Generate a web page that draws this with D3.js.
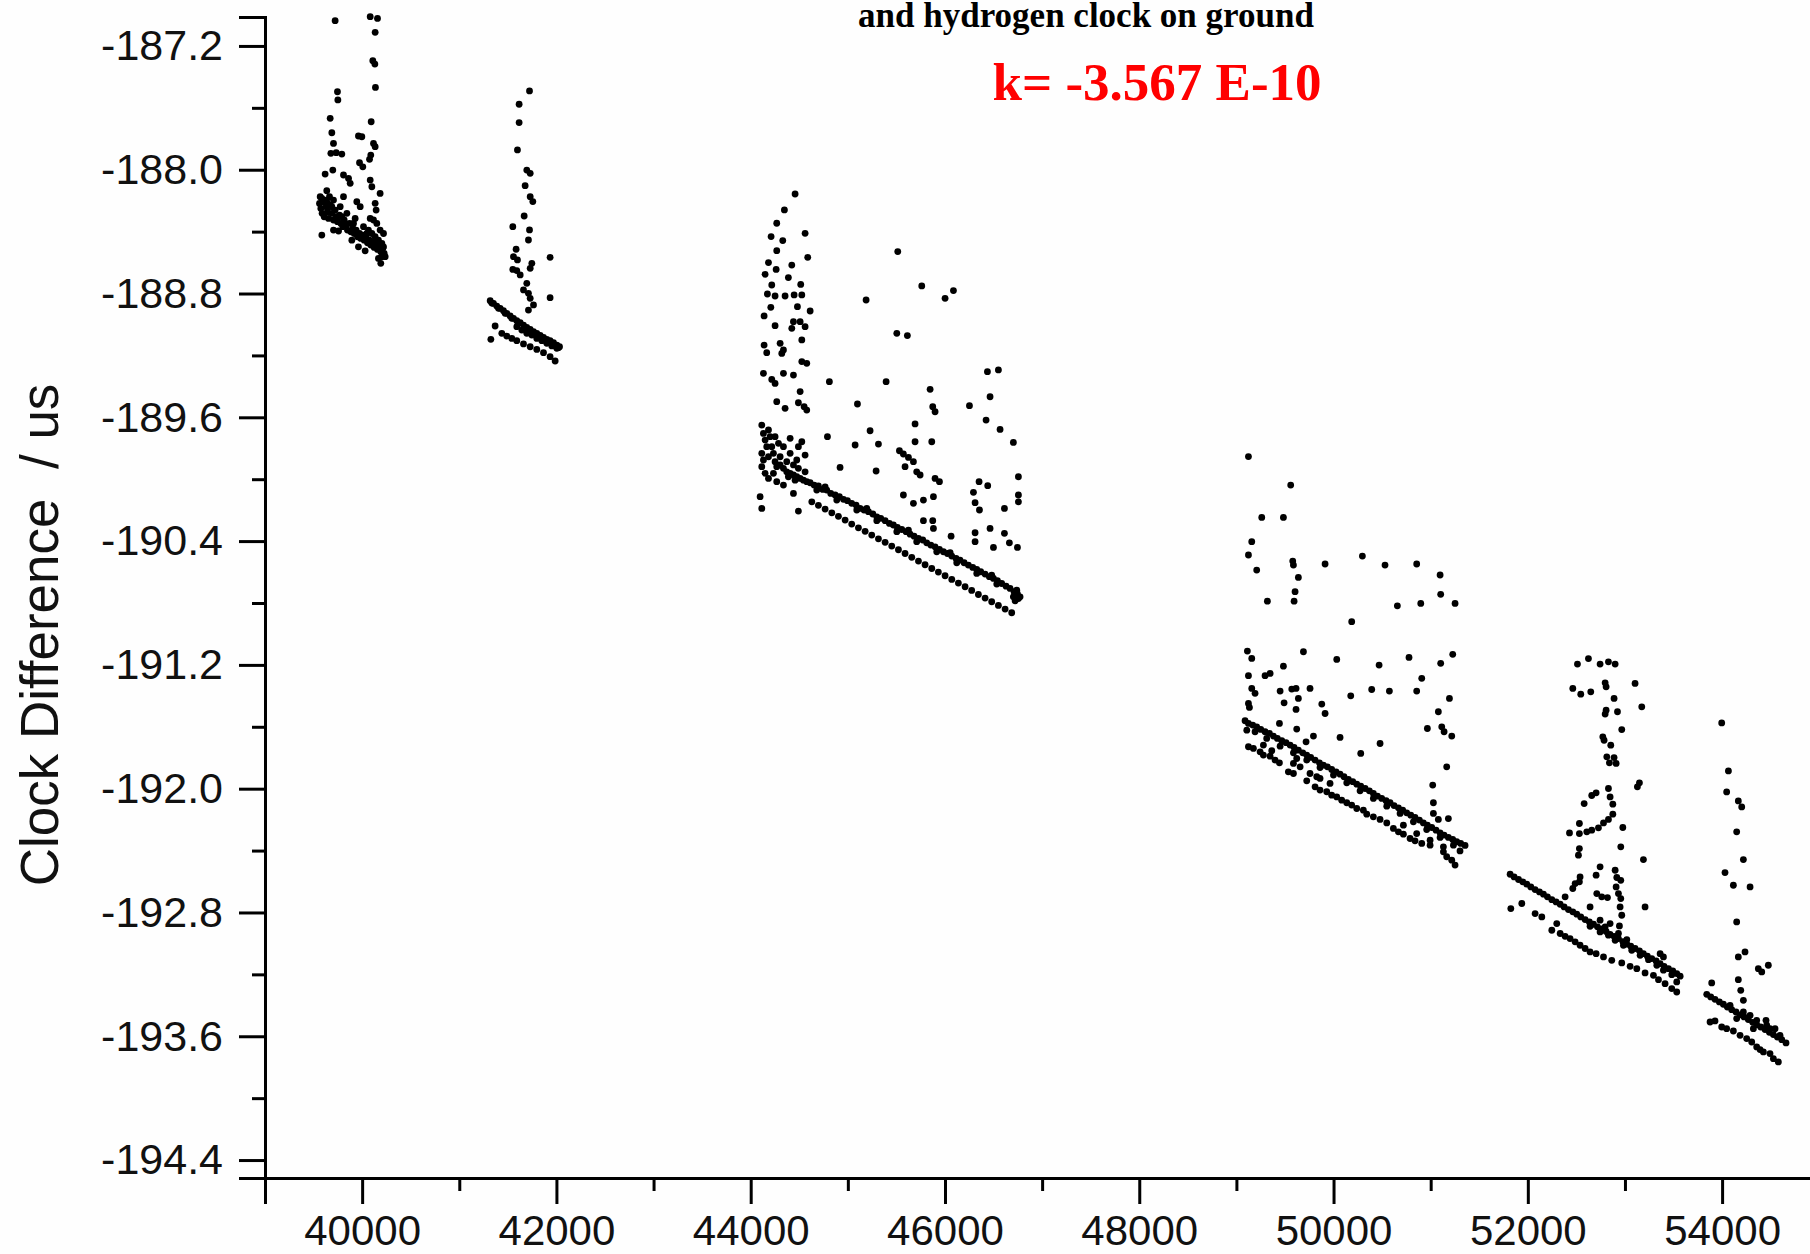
<!DOCTYPE html>
<html><head><meta charset="utf-8">
<script src="https://cdn.jsdelivr.net/npm/d3@7"></script>
<style>
html,body{margin:0;padding:0;background:#fff;}
svg{display:block;}
</style></head>
<body>
<svg id="chart" width="1810" height="1254"></svg>
<script>
// ---------- data (x: time, y: clock difference in us) ----------
const seg1 = [
[39722,-187.037],[40083,-187.011],[40158,-187.022],[40134,-187.112],[40110,-187.295],[40131,-187.317],[40137,-187.468],[39746,-187.496],[39750,-187.549],[39671,-187.668],[40093,-187.690],[39688,-187.761],[39962,-187.782],[39997,-187.787],[39705,-187.830],[40117,-187.830],[40134,-187.851],[39678,-187.894],[39733,-187.890],[39791,-187.899],[40089,-187.905],[40076,-187.933],[39973,-187.955],[40007,-187.981],[39698,-188.002],[39619,-188.028],[39808,-188.034],[39860,-188.056],[39877,-188.088],[40083,-188.067],[40100,-188.110],[40185,-188.153],[39636,-188.136],[39664,-188.174],[39808,-188.174],[39945,-188.207],[39980,-188.239],[40134,-188.217],[40144,-188.261],
[39561,-188.218],[39575,-188.250],[39588,-188.282],[39602,-188.207],[39609,-188.304],[39630,-188.239],[39643,-188.271],[39654,-188.315],[39671,-188.228],[39688,-188.282],[39705,-188.325],[39722,-188.261],[39733,-188.304],[39746,-188.336],[39767,-188.293],[39781,-188.347],[39801,-188.368],[39815,-188.325],[39835,-188.358],[39849,-188.390],[39870,-188.347],[39884,-188.401],[39904,-188.379],[39918,-188.412],[39938,-188.390],[39952,-188.433],[39973,-188.412],[39986,-188.444],[40007,-188.422],[40021,-188.455],[40041,-188.437],[40055,-188.472],[40076,-188.455],[40089,-188.487],[40110,-188.465],[40124,-188.502],[40144,-188.480],[40158,-188.515],[40179,-188.498],[40192,-188.530],[40213,-188.508],[40227,-188.541],[40065,-188.390],[40100,-188.412],[40134,-188.433],[40168,-188.455],[40203,-188.476],[40220,-188.412],[40151,-188.347],[40185,-188.390],[39585,-188.422],[39705,-188.390],[39757,-188.396],[39894,-188.455],[39962,-188.498],[40031,-188.524],[40168,-188.573],[40192,-188.605],[40083,-188.315],[40117,-188.325],[39568,-188.174],[39619,-188.196],[39688,-188.239],[39791,-188.304],[39911,-188.347],
[39585,-188.185],[39636,-188.207],[39705,-188.196],[39774,-188.239],[39843,-188.282],[39928,-188.315],[40014,-188.368],[40048,-188.412],[40151,-188.455],[40220,-188.498],[40237,-188.562],[40203,-188.562]
];
const seg2 = [
[41723,-187.491],[41616,-187.577],[41616,-187.695],[41599,-187.872],[41695,-188.002],[41730,-188.023],[41678,-188.103],[41730,-188.174],[41757,-188.206],[41668,-188.299],[41551,-188.368],[41723,-188.389],[41712,-188.454],[41585,-188.514],[41558,-188.562],[41935,-188.566],[41599,-188.583],[41551,-188.644],[41592,-188.652],[41627,-188.680],[41747,-188.605],[41730,-188.637],[41695,-188.734],[41661,-188.777],[41712,-188.799],[41730,-188.831],[41764,-188.874],[41935,-188.827],[41712,-188.907],
[41318,-188.846],[41352,-188.864],[41386,-188.881],[41421,-188.896],[41455,-188.911],[41489,-188.928],[41524,-188.945],[41558,-188.960],[41592,-188.976],[41627,-188.988],[41661,-189.004],[41695,-189.019],[41730,-189.032],[41764,-189.047],[41798,-189.057],[41833,-189.070],[41867,-189.083],[41901,-189.096],[41935,-189.105],[41970,-189.118],[42004,-189.133],[42032,-189.144],
[41335,-188.862],[41404,-188.896],[41472,-188.928],[41541,-188.960],[41610,-188.992],[41678,-189.022],[41747,-189.050],[41815,-189.075],[41884,-189.100],[41953,-189.125],[42020,-189.150],
[41592,-189.014],[41644,-189.036],[41695,-189.057],[41747,-189.068],[41798,-189.090],[41850,-189.105],[41901,-189.122],[41953,-189.139],[42004,-189.154],
[41369,-189.010],[41438,-189.057],[41489,-189.075],[41541,-189.090],[41592,-189.105],[41661,-189.126],[41730,-189.144],[41798,-189.161],[41867,-189.182],[41935,-189.208],[41987,-189.236],[41325,-189.096]
];
const seg3 = [
[44457,-188.157],[44347,-188.260],[44268,-188.346],[44210,-188.432],[44560,-188.411],[44330,-188.458],[44268,-188.523],[44587,-188.566],[45514,-188.529],[44183,-188.600],[44423,-188.616],[44262,-188.644],[44148,-188.676],[44388,-188.697],[44217,-188.745],[44515,-188.741],[45761,-188.751],[46087,-188.781],[46001,-188.831],[45188,-188.842],[44172,-188.803],[44251,-188.816],[44354,-188.816],[44447,-188.809],[44526,-188.809],[44138,-188.945],[44207,-188.889],[44481,-188.885],[44612,-188.913],[44440,-188.982],[44509,-188.982],[44560,-189.014],[44251,-189.008],[44423,-189.025],[45504,-189.057],[45613,-189.072],[44138,-189.133],[44303,-189.122],[44337,-189.165],[44526,-189.100],[44320,-189.187],[44165,-189.182],[44526,-189.240],[44577,-189.251],[44131,-189.316],[44217,-189.355],[44251,-189.381],[44337,-189.316],[44440,-189.327],[44810,-189.370],[45394,-189.370],[46437,-189.305],[46550,-189.294],[45847,-189.419],[44509,-189.434],[46464,-189.467],[44268,-189.499],[44354,-189.542],[44491,-189.506],[44550,-189.531],[44577,-189.553],[45099,-189.514],[45874,-189.531],[45898,-189.564],[46252,-189.525],[46423,-189.618],[45692,-189.643],[46567,-189.678],[45229,-189.687],[44790,-189.725],[45075,-189.779],[45315,-189.773],[45692,-189.758],[45864,-189.758],[46704,-189.762],[44920,-189.924],[45291,-189.947],[45589,-189.919],[45709,-189.952],[45744,-189.973],[45898,-189.995],[45943,-190.016],[46351,-190.016],[46440,-190.042],[46756,-189.984],[46293,-190.085],[45572,-190.102],[45675,-190.156],[45778,-190.135],[45881,-190.113],[46310,-190.152],[46355,-190.199],[46612,-190.189],[46756,-190.102],[46756,-190.146],[45778,-190.268],[45874,-190.268],[45881,-190.318],[46063,-190.368],[46310,-190.346],[46464,-190.318],[46612,-190.350],[46310,-190.404],[46499,-190.441],[46663,-190.411],[46746,-190.441],[45531,-189.816],[45572,-189.837],[45624,-189.859],[45675,-189.887],
[44114,-189.650],[44131,-189.704],[44148,-189.747],[44165,-189.790],[44114,-189.833],[44131,-189.876],[44183,-189.855],[44200,-189.725],[44217,-189.790],[44234,-189.833],[44251,-189.887],[44268,-189.919],[44303,-189.908],[44337,-189.930],[44371,-189.952],[44406,-189.962],[44440,-189.973],[44474,-189.984],[44509,-189.995],[44543,-190.006],[44577,-190.016],[44114,-189.919],[44148,-189.962],[44183,-189.995],[44268,-190.016],[44388,-189.984],[44457,-190.006],[44303,-189.855],[44371,-189.887],[44440,-189.908],[44491,-189.930],[44560,-189.952],[44337,-189.790],[44406,-189.833],[44474,-189.876],[44183,-189.682],[44251,-189.725],[44286,-189.768],[44406,-189.736],[44491,-189.790],[44526,-189.758],[44560,-189.844],[44097,-190.113],[44114,-190.189],[44491,-190.206],[44440,-190.092],[44337,-190.038],[44234,-189.962],
[44612,-190.023],[44653,-190.038],[44697,-190.044],[44742,-190.066],[44783,-190.070],[44824,-190.092],[44869,-190.102],[44913,-190.113],[44955,-190.130],[44996,-190.139],[45040,-190.156],[45085,-190.167],[45126,-190.189],[45167,-190.199],[45212,-190.210],[45257,-190.225],[45298,-190.243],[45339,-190.253],[45384,-190.268],[45428,-190.286],[45469,-190.296],[45510,-190.312],[45555,-190.325],[45600,-190.339],[45641,-190.355],[45682,-190.368],[45727,-190.383],[45771,-190.393],[45812,-190.411],[45854,-190.426],[45898,-190.437],[45943,-190.454],[45984,-190.469],[46025,-190.480],[46070,-190.497],[46114,-190.512],[46155,-190.523],[46197,-190.540],[46241,-190.555],[46286,-190.570],[46327,-190.583],[46368,-190.598],[46413,-190.613],[46457,-190.630],[46499,-190.641],[46540,-190.656],[46584,-190.674],[46629,-190.691],[46670,-190.706],[46711,-190.727],[46746,-190.742],[46773,-190.760],
[44680,-190.070],[44886,-190.135],[45092,-190.199],[45298,-190.268],[45504,-190.339],[45709,-190.404],[45915,-190.469],[46121,-190.540],[46327,-190.609],[46533,-190.678],[46704,-190.760],[44766,-190.049],[45195,-190.189],[45624,-190.329],[46053,-190.475],[46481,-190.620],[46739,-190.717],[46756,-190.771],[46722,-190.786],
[44629,-190.146],[44697,-190.169],[44766,-190.193],[44835,-190.217],[44903,-190.240],[44972,-190.264],[45040,-190.290],[45109,-190.314],[45178,-190.337],[45246,-190.361],[45315,-190.385],[45384,-190.408],[45452,-190.432],[45521,-190.456],[45589,-190.480],[45658,-190.505],[45727,-190.529],[45795,-190.553],[45864,-190.577],[45932,-190.600],[46001,-190.624],[46070,-190.648],[46138,-190.671],[46207,-190.695],[46275,-190.719],[46344,-190.745],[46413,-190.768],[46481,-190.792],[46550,-190.816],[46619,-190.839],[46687,-190.863]
];
const seg4 = [
[49124,-189.854],[49559,-190.038],[49261,-190.247],[49484,-190.247],[49158,-190.404],[49124,-190.490],[49209,-190.587],[49580,-190.529],[49587,-190.555],[49913,-190.548],[50297,-190.497],[50530,-190.555],[50856,-190.548],[51097,-190.619],[49638,-190.635],[49604,-190.727],[49319,-190.788],[49594,-190.788],[50657,-190.818],[50898,-190.803],[51103,-190.744],[51251,-190.803],[50187,-190.921],[49113,-191.111],[49158,-191.158],[49690,-191.115],[50033,-191.165],[49484,-191.208],[50469,-191.201],[50777,-191.152],[51103,-191.190],[51227,-191.132],[49124,-191.270],[49295,-191.270],[49347,-191.255],[50908,-191.287],[49158,-191.352],[49192,-191.384],[49450,-191.369],[49570,-191.356],[49614,-191.352],[49758,-191.352],[50393,-191.359],[50575,-191.369],[50856,-191.369],[49638,-191.417],[49491,-191.445],[49879,-191.453],[50177,-191.400],[51193,-191.417],[49124,-191.449],[49134,-191.475],[49614,-191.488],[49913,-191.514],[51079,-191.503],[49443,-191.578],[49621,-191.615],[49793,-191.660],[49717,-191.697],[50067,-191.669],[50966,-191.611],[51114,-191.600],[51138,-191.632],[51217,-191.660],[50479,-191.708],[50280,-191.772],[51165,-191.859],[51021,-191.977],[51028,-192.091],[51028,-192.160],[51079,-192.199],[51182,-192.193],
[49089,-191.561],[49124,-191.578],[49168,-191.589],[49209,-191.600],[49251,-191.617],[49295,-191.632],[49340,-191.643],[49381,-191.660],[49422,-191.675],[49467,-191.690],[49511,-191.703],[49553,-191.718],[49594,-191.734],[49638,-191.751],[49683,-191.768],[49724,-191.783],[49765,-191.798],[49810,-191.815],[49855,-191.833],[49896,-191.848],[49937,-191.859],[49981,-191.876],[50026,-191.891],[50067,-191.906],[50108,-191.923],[50153,-191.940],[50198,-191.955],[50239,-191.971],[50280,-191.984],[50325,-191.999],[50369,-192.014],[50410,-192.031],[50452,-192.048],[50496,-192.063],[50541,-192.078],[50582,-192.091],[50623,-192.109],[50668,-192.124],[50712,-192.139],[50753,-192.156],[50795,-192.171],[50839,-192.186],[50884,-192.203],[50925,-192.221],[50966,-192.236],[51011,-192.251],[51055,-192.268],[51097,-192.285],[51138,-192.300],[51182,-192.315],[51227,-192.328],[51268,-192.343],[51309,-192.354],[51354,-192.367],
[49107,-191.622],[49192,-191.632],[49312,-191.675],[49450,-191.725],[49587,-191.768],[49724,-191.815],[49861,-191.863],[49999,-191.912],[50136,-191.962],[50273,-192.014],[50410,-192.063],[50548,-192.113],[50685,-192.160],[50822,-192.214],[50959,-192.264],[51097,-192.315],[51234,-192.365],[51302,-192.402],
[49124,-191.729],[49175,-191.740],[49244,-191.762],[49278,-191.783],[49347,-191.790],[49398,-191.815],[49443,-191.833],[49535,-191.891],[49587,-191.902],[49724,-191.949],[49810,-191.988],[49861,-192.009],[49930,-192.020],[49964,-191.966],[49981,-192.042],[50033,-192.053],[50084,-192.074],[50136,-192.091],[50187,-192.106],[50239,-192.128],[50307,-192.139],[50342,-192.165],[50410,-192.182],[50479,-192.199],[50548,-192.221],[50616,-192.257],[50668,-192.279],[50719,-192.294],[50788,-192.322],[50839,-192.337],[50908,-192.354],[50994,-192.365],[51131,-192.408],[51165,-192.440],[51217,-192.462],[51251,-192.494],[49278,-191.718],[49364,-191.755],[49587,-191.837],[49656,-191.859],[49758,-191.902],[49827,-191.923],[49621,-191.805],[49861,-191.934],[50719,-192.236],[50856,-192.290],[50994,-192.333],[51131,-192.376]
];
const seg5 = [
[52511,-191.195],[52624,-191.159],[52744,-191.195],[52830,-191.180],[52899,-191.195],[52463,-191.352],[52545,-191.389],[52648,-191.374],[52796,-191.316],[52806,-191.342],[52888,-191.417],[53104,-191.320],[53173,-191.471],[52806,-191.493],[52923,-191.503],[52796,-191.518],[52967,-191.618],[52772,-191.665],[52785,-191.687],[52854,-191.719],[52813,-191.794],[52888,-191.799],[52840,-191.833],[52909,-191.837],[53149,-191.962],[53128,-191.988],[52703,-192.027],[52658,-192.044],[52830,-191.999],[52847,-192.053],[52580,-192.096],[52875,-192.100],[52875,-192.165],[52830,-192.199],[52779,-192.221],[52727,-192.253],[52658,-192.268],[52607,-192.279],[52531,-192.290],[52531,-192.225],[52429,-192.286],[52978,-192.251],[52531,-192.387],[52521,-192.430],[52957,-192.376],[53190,-192.458],[52744,-192.505],[52703,-192.559],[52538,-192.570],[52531,-192.602],[52487,-192.613],[52463,-192.645],[52899,-192.527],[52916,-192.574],[52957,-192.592],[52909,-192.635],[52933,-192.678],[52957,-192.710],[52950,-192.764],[52967,-192.818],[52710,-192.678],[52761,-192.699],[52820,-192.704],[53207,-192.764],[52384,-192.699],[52641,-192.764],[52943,-192.887],
[51818,-192.553],[51859,-192.570],[51904,-192.587],[51948,-192.602],[51989,-192.617],[52031,-192.635],[52075,-192.652],[52120,-192.667],[52161,-192.682],[52202,-192.699],[52247,-192.717],[52291,-192.732],[52333,-192.747],[52374,-192.764],[52418,-192.781],[52463,-192.796],[52504,-192.811],[52545,-192.829],[52590,-192.846],[52634,-192.861],[52676,-192.876],[52717,-192.893],[52761,-192.906],[52806,-192.923],[52847,-192.941],[52888,-192.954],[52933,-192.969],[52978,-192.988],[53019,-193.005],[53060,-193.018],[53104,-193.033],[53149,-193.048],[53190,-193.066],[53231,-193.083],[53276,-193.098],[53321,-193.113],[53362,-193.130],[53403,-193.148],[53448,-193.163],[53492,-193.178],[53533,-193.195],[53568,-193.212],
[52641,-192.889],[52744,-192.926],[52796,-192.893],[52830,-192.947],[52899,-192.980],[52933,-192.936],[52984,-193.012],[53019,-192.975],[53070,-193.044],[53156,-193.077],[53242,-193.105],[53328,-193.141],[53396,-193.173],[53482,-193.202],[53533,-193.249],[53362,-193.066],[53396,-193.087],[52744,-192.850],[52847,-192.872],
[51825,-192.775],[51938,-192.742],[52075,-192.807],[52144,-192.829],[52247,-192.915],[52298,-192.872],[52333,-192.936],[52384,-192.954],[52435,-192.969],[52487,-192.990],[52538,-193.012],[52590,-193.033],[52641,-193.055],[52703,-193.066],[52779,-193.087],[52864,-193.109],[52967,-193.126],[53053,-193.148],[53122,-193.163],[53207,-193.191],[53293,-193.206],[53345,-193.234],[53413,-193.260],[53482,-193.292],[53533,-193.314]
];
const seg6 = [
[53996,-191.575],[54065,-191.885],[54047,-192.021],[54167,-192.079],[54202,-192.118],[54150,-192.279],[54219,-192.458],[54030,-192.542],[54116,-192.624],[54288,-192.635],[54150,-192.861],[54167,-193.087],[54236,-193.055],[54373,-193.163],[54408,-193.184],[54476,-193.141],[53893,-193.255],[54167,-193.234],[54192,-193.303],[54219,-193.368],[54452,-193.497],[54545,-193.551],
[53842,-193.329],[53883,-193.346],[53927,-193.361],[53972,-193.378],[54013,-193.393],[54054,-193.411],[54099,-193.428],[54143,-193.443],[54185,-193.462],[54226,-193.475],[54270,-193.492],[54315,-193.510],[54356,-193.525],[54397,-193.540],[54442,-193.557],[54487,-193.574],[54528,-193.589],[54569,-193.605],[54614,-193.622],[54658,-193.643],[54082,-193.400],[54219,-193.443],[54356,-193.497],[54493,-193.551],[54596,-193.594],[54288,-193.465],[54459,-193.529],[54150,-193.486],[54322,-193.551],
[53876,-193.508],[53927,-193.501],[53996,-193.540],[54047,-193.551],[54116,-193.566],[54185,-193.594],[54253,-193.615],[54305,-193.637],[54356,-193.669],[54391,-193.686],[54425,-193.701],[54493,-193.712],[54528,-193.745],[54579,-193.766]
];
const segments = [seg1, seg2, seg3, seg4, seg5, seg6];

const xMajorTicks = [40000, 42000, 44000, 46000, 48000, 50000, 52000, 54000];
const xMinorTicks = [39000, 41000, 43000, 45000, 47000, 49000, 51000, 53000, 55000];
const yMajorTicks = [-187.2, -188.0, -188.8, -189.6, -190.4, -191.2, -192.0, -192.8, -193.6, -194.4];
const yMinorTicks = [-187.6, -188.4, -189.2, -190.0, -190.8, -191.6, -192.4, -193.2, -194.0];
const yTitle = "Clock Difference  / us";
const titleLine = "and hydrogen clock on ground";
const slopeText = "k= -3.567 E-10";

// ---------- drawing ----------
const svg = d3.select("#chart");
svg.append("rect").attr("width", 1810).attr("height", 1254).attr("fill", "#fefefe");

const x = d3.scaleLinear().domain([39000, 55000]).range([265, 265 + 16 * 97.14]);
const y = d3.scaleLinear().domain([-194.516, -187.013]).range([1178, 17]);

const axisFont = "'Liberation Sans', Arial, sans-serif";

// x axis
const gx = svg.append("g").attr("transform", "translate(0,1178)");
gx.call(d3.axisBottom(x).tickValues(xMajorTicks).tickSize(26).tickPadding(11).tickFormat(d => String(d)));
gx.append("g").call(d3.axisBottom(x).tickValues(xMinorTicks).tickSize(13).tickFormat(""));
gx.selectAll(".domain").attr("stroke", "#000").attr("stroke-width", 3);
gx.selectAll("line").attr("stroke", "#000").attr("stroke-width", 3);
gx.selectAll("text").attr("font-family", axisFont).attr("font-size", 42).attr("fill", "#111");
gx.selectAll("g g .domain").remove();

// y axis
const gy = svg.append("g").attr("transform", "translate(265,0)");
gy.call(d3.axisLeft(y).tickValues(yMajorTicks).tickSize(26).tickPadding(16).tickFormat(d => d.toFixed(1)));
gy.append("g").call(d3.axisLeft(y).tickValues(yMinorTicks).tickSize(13).tickFormat(""));
gy.selectAll(".domain").attr("stroke", "#000").attr("stroke-width", 3);
gy.selectAll("line").attr("stroke", "#000").attr("stroke-width", 3);
gy.selectAll("text").attr("font-family", axisFont).attr("font-size", 43).attr("fill", "#111");
gy.selectAll("g g .domain").remove();

// y axis title
svg.append("text")
  .attr("transform", "translate(58,635) rotate(-90)")
  .attr("text-anchor", "middle")
  .attr("font-family", axisFont)
  .attr("font-size", 53)
  .attr("fill", "#111")
  .style("white-space", "pre")
  .text(yTitle);

// title fragment & slope annotation
svg.append("text")
  .attr("x", 1086).attr("y", 27)
  .attr("text-anchor", "middle")
  .attr("font-family", "'Liberation Serif', 'Times New Roman', serif")
  .attr("font-weight", "bold")
  .attr("font-size", 35)
  .attr("fill", "#000")
  .text(titleLine);
svg.append("text")
  .attr("x", 1157).attr("y", 100)
  .attr("text-anchor", "middle")
  .attr("font-family", "'Liberation Serif', 'Times New Roman', serif")
  .attr("font-weight", "bold")
  .attr("font-size", 53)
  .attr("fill", "#ff0000")
  .style("white-space", "pre")
  .text(slopeText);

// points
const pts = svg.append("g");
segments.forEach(seg => {
  pts.selectAll(null).data(seg).enter().append("circle")
    .attr("cx", d => x(d[0]))
    .attr("cy", d => y(d[1]))
    .attr("r", 3.4)
    .attr("fill", "#000");
});
</script>
</body></html>
